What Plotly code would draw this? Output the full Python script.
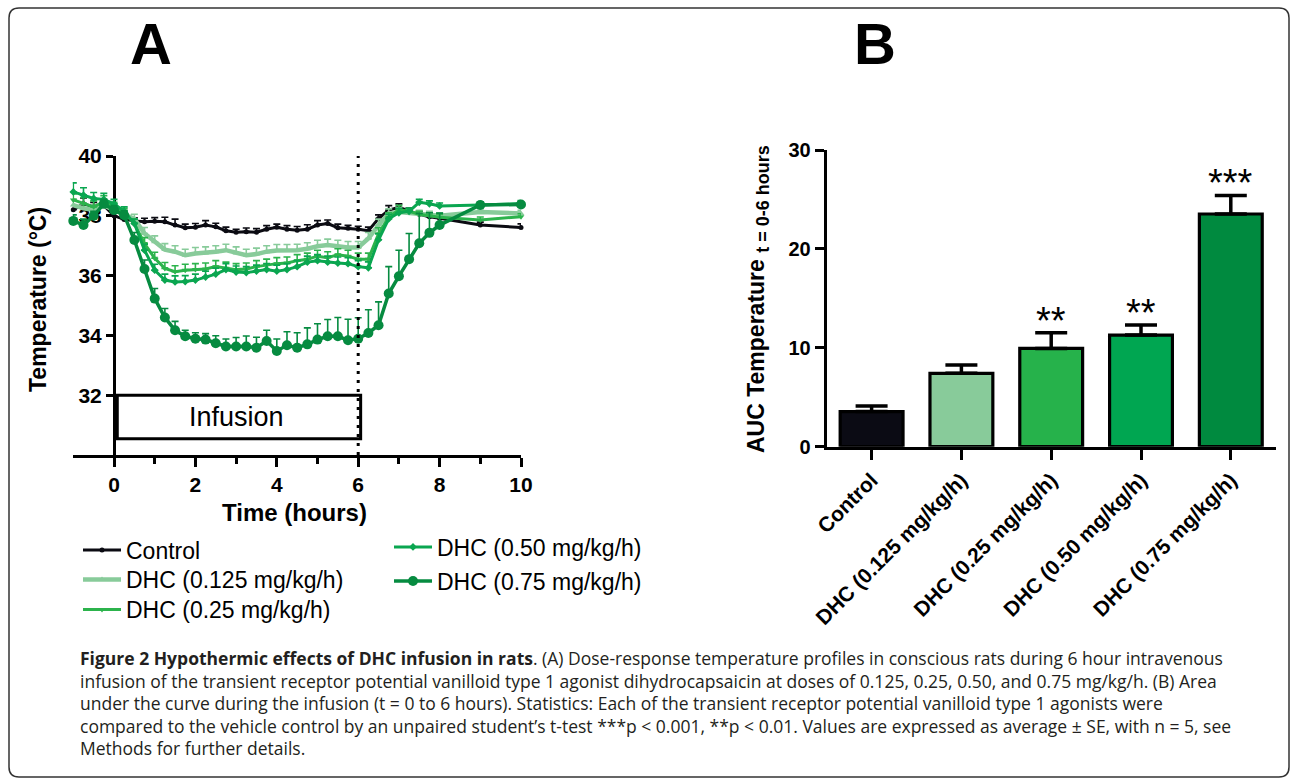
import plotly.graph_objects as go

W, H = 1293, 782

# ---------------- data: panel A ----------------
time_h = [-1, -0.75, -0.5, -0.25, 0, 0.25, 0.5, 0.75, 1, 1.25,
          1.5, 1.75, 2, 2.25, 2.5, 2.75, 3, 3.25, 3.5, 3.75,
          4, 4.25, 4.5, 4.75, 5, 5.25, 5.5, 5.75, 6, 6.25,
          6.5, 6.75, 7, 7.25, 7.5, 7.75, 8, 9, 10]

control = [38.2, 38.4, 38.3, 38.35, 38.0, 37.88, 37.83, 37.8, 37.82, 37.8,
           37.69, 37.6, 37.62, 37.69, 37.63, 37.5, 37.45, 37.47, 37.45, 37.55,
           37.62, 37.55, 37.52, 37.55, 37.69, 37.74, 37.6, 37.58, 37.55, 37.5,
           37.91, 38.19, 38.28, 38.16, 38.05, 37.97, 37.92, 37.69, 37.61]
control_se = [0.15, 0.2, 0.15, 0.15, 0.1, 0.1, 0.1, 0.12, 0.12, 0.15,
              0.2, 0.12, 0.12, 0.15, 0.12, 0.12, 0.1, 0.12, 0.12, 0.12,
              0.1, 0.12, 0.12, 0.15, 0.15, 0.12, 0.12, 0.1, 0.1, 0.12,
              0.12, 0.15, 0.12, 0.1, 0.1, 0.1, 0.1, 0.1, 0.12]

dhc_0125 = [38.36, 38.25, 38.2, 38.35, 38.2, 38.05, 37.9, 37.41, 37.13, 36.87,
            36.8, 36.68, 36.74, 36.76, 36.8, 36.85, 36.76, 36.68, 36.72, 36.8,
            36.84, 36.84, 36.85, 36.9, 36.98, 37.02, 36.98, 36.94, 36.94, 37.24,
            37.69, 38.08, 38.13, 38.1, 38.08, 38.05, 38.0, 38.13, 38.08]
dhc_0125_se = [0.2, 0.15, 0.15, 0.15, 0.15, 0.15, 0.15, 0.2, 0.2, 0.2,
               0.2, 0.2, 0.2, 0.2, 0.2, 0.2, 0.2, 0.2, 0.2, 0.2,
               0.2, 0.2, 0.2, 0.2, 0.2, 0.2, 0.2, 0.2, 0.2, 0.2,
               0.2, 0.15, 0.15, 0.1, 0.1, 0.1, 0.1, 0.1, 0.1]

dhc_025 = [38.53, 38.41, 38.3, 38.47, 38.3, 38.1, 37.74, 37.07, 36.58, 36.24,
           36.13, 36.18, 36.2, 36.22, 36.3, 36.25, 36.2, 36.22, 36.3, 36.35,
           36.4, 36.42, 36.5, 36.55, 36.65, 36.6, 36.7, 36.65, 36.55, 36.55,
           37.4, 37.95, 38.2, 38.15, 38.05, 38.0, 37.95, 37.86, 37.97]
dhc_025_se = [0.2, 0.2, 0.2, 0.2, 0.15, 0.15, 0.15, 0.2, 0.2, 0.2,
              0.2, 0.2, 0.2, 0.2, 0.2, 0.2, 0.2, 0.2, 0.2, 0.2,
              0.2, 0.2, 0.2, 0.2, 0.2, 0.2, 0.2, 0.2, 0.2, 0.2,
              0.2, 0.15, 0.15, 0.1, 0.1, 0.1, 0.1, 0.1, 0.1]

dhc_050 = [38.8, 38.69, 38.58, 38.55, 38.4, 38.15, 37.74, 36.85, 36.18, 35.85,
           35.79, 35.8, 35.85, 35.95, 36.05, 36.2, 36.12, 36.1, 36.15, 36.2,
           36.15, 36.2, 36.3, 36.45, 36.5, 36.45, 36.42, 36.4, 36.3, 36.26,
           37.2, 37.9, 38.1, 38.15, 38.45, 38.4, 38.33, 38.36, 38.41]
dhc_050_se = [0.3, 0.25, 0.2, 0.2, 0.15, 0.15, 0.15, 0.2, 0.2, 0.2,
              0.2, 0.2, 0.2, 0.2, 0.2, 0.2, 0.2, 0.2, 0.2, 0.2,
              0.2, 0.2, 0.2, 0.2, 0.2, 0.2, 0.2, 0.2, 0.2, 0.2,
              0.2, 0.15, 0.15, 0.1, 0.1, 0.1, 0.1, 0.1, 0.1]

dhc_075 = [37.83, 37.69, 38.0, 38.4, 38.19, 38.02, 37.19, 36.22, 35.23, 34.6,
           34.17, 33.97, 33.89, 33.86, 33.74, 33.63, 33.63, 33.63, 33.59, 33.81,
           33.48, 33.67, 33.59, 33.7, 33.86, 33.97, 33.97, 33.84, 33.89, 34.08,
           34.34, 35.4, 35.98, 36.55, 37.08, 37.43, 37.69, 38.36, 38.38]
dhc_075_se = [0.2, 0.2, 0.15, 0.15, 0.15, 0.15, 0.25, 0.3, 0.34, 0.3,
              0.3, 0.2, 0.2, 0.2, 0.25, 0.25, 0.3, 0.35, 0.35, 0.36,
              0.4, 0.45, 0.5, 0.55, 0.53, 0.56, 0.63, 0.7, 0.7, 0.78,
              0.78, 0.9, 0.87, 0.86, 1.0, 0.67, 0.4, 0.1, 0.1]

series_names = ["Control", "DHC (0.125 mg/kg/h)", "DHC (0.25 mg/kg/h)",
                "DHC (0.50 mg/kg/h)", "DHC (0.75 mg/kg/h)"]
infusion_start, infusion_end = 0, 6
a_yticks = [32, 34, 36, 38, 40]
a_xticks = [0, 2, 4, 6, 8, 10]
a_xminor = [1, 3, 5, 7, 9]

# ---------------- data: panel B ----------------
groups = ["Control", "DHC (0.125 mg/kg/h)", "DHC (0.25 mg/kg/h)",
          "DHC (0.50 mg/kg/h)", "DHC (0.75 mg/kg/h)"]
auc = [3.55, 7.42, 9.94, 11.29, 23.53]
auc_se = [0.56, 0.84, 1.59, 1.01, 1.88]
signif = ["", "", "**", "**", "***"]
b_yticks = [0, 10, 20, 30]

caption_lines = [
    "<b>Figure 2 Hypothermic effects of DHC infusion in rats</b>. (A) Dose-response temperature profiles in conscious rats during 6 hour intravenous",
    "infusion of the transient receptor potential vanilloid type 1 agonist dihydrocapsaicin at doses of 0.125, 0.25, 0.50, and 0.75 mg/kg/h. (B) Area",
    "under the curve during the infusion (t = 0 to 6 hours). Statistics: Each of the transient receptor potential vanilloid type 1 agonists were",
    "compared to the vehicle control by an unpaired student\u2019s t-test ***p < 0.001, **p < 0.01. Values are expressed as average \u00b1 SE, with n = 5, see",
    "Methods for further details.",
]

# ---------------- styles ----------------
colors = ["#0b0b12", "#88cb9a", "#2cb34c", "#0aa650", "#068b40"]
bar_colors = ["#0b0b14", "#88cb9a", "#26b24b", "#00a651", "#008a3f"]
line_w = [3, 4.5, 3, 3, 3.5]
msym = ["circle", "triangle-up", "triangle-down", "diamond", "circle"]
msize = [5, 6, 6, 6, 10]
FONT = "Liberation Sans, Arial, sans-serif"


def X(p):
    return p / W


def Y(p):
    return 1 - p / H


# panel A geometry
a_xr = [-1.015, 10]
a_xd = [X(72.7), X(521)]
a_yd = [Y(455), Y(156)]
a_ypos = a_xd[0] + (0 - a_xr[0]) / (a_xr[1] - a_xr[0]) * (a_xd[1] - a_xd[0])

# panel B geometry
b_xd = [X(826.7), X(1275.7)]
b_yd = [Y(446.7), Y(150)]

fig = go.Figure()

all_y = [control, dhc_0125, dhc_025, dhc_050, dhc_075]
all_se = [control_se, dhc_0125_se, dhc_025_se, dhc_050_se, dhc_075_se]
legend_ids = ["legend", "legend2", "legend3", "legend4", "legend5"]
for i in range(5):
    fig.add_trace(go.Scatter(
        x=time_h, y=all_y[i], name=series_names[i], mode="lines+markers",
        line=dict(color=colors[i], width=line_w[i]),
        marker=dict(color=colors[i], size=msize[i], symbol=msym[i]),
        error_y=dict(type="data", symmetric=False, array=all_se[i],
                     arrayminus=[0] * len(all_se[i]), color=colors[i],
                     thickness=1.6, width=3.5),
        cliponaxis=False, legend=legend_ids[i],
        xaxis="x", yaxis="y", showlegend=True))

fig.add_trace(go.Bar(
    x=groups, y=auc, marker=dict(color=bar_colors, line=dict(color="black", width=3.2)),
    width=0.7,
    error_y=dict(type="data", symmetric=False, array=auc_se,
                 arrayminus=[0] * len(auc_se), color="black", thickness=3.5, width=16),
    xaxis="x2", yaxis="y2", showlegend=False))

tickfont = dict(family=FONT, size=21, color="black")
fig.update_layout(
    width=W, height=H, autosize=False,
    margin=dict(l=0, r=0, t=0, b=0, pad=0, autoexpand=False),
    paper_bgcolor="white", plot_bgcolor="white",
    font=dict(family=FONT, color="black"),
    xaxis=dict(domain=a_xd, range=a_xr, anchor="y", showgrid=False, zeroline=False,
               automargin=False,
               showline=True, linewidth=3, linecolor="black",
               ticks="outside", ticklen=9, tickwidth=3, tickcolor="black",
               tickvals=a_xticks, ticktext=[f"<b>{v}</b>" for v in a_xticks],
               tickfont=tickfont,
               minor=dict(tickvals=a_xminor, ticks="outside", ticklen=6, tickwidth=2.5,
                          tickcolor="black", showgrid=False)),
    yaxis=dict(domain=a_yd, range=[30, 40], anchor="free", position=a_ypos,
               showgrid=False, zeroline=False, layer="below traces", automargin=False,
               showline=True, linewidth=3, linecolor="black",
               ticks="outside", ticklen=7, tickwidth=3, tickcolor="black",
               tickvals=a_yticks, ticktext=[f"<b>{v}</b>" for v in a_yticks],
               tickfont=tickfont),
    xaxis2=dict(domain=b_xd, range=[-0.5, 4.5], anchor="y2", type="category",
                showgrid=False, zeroline=False, automargin=False,
                showline=True, linewidth=3, linecolor="black",
                ticks="outside", ticklen=10, tickwidth=3, tickcolor="black",
                tickangle=-45, tickvals=groups,
                ticktext=[f"<b>{g}</b>" for g in groups],
                tickfont=dict(family=FONT, size=21, color="black")),
    yaxis2=dict(domain=b_yd, range=[0, 30], anchor="x2", showgrid=False, zeroline=False,
                automargin=False,
                showline=True, linewidth=3, linecolor="black",
                ticks="outside", ticklen=9, tickwidth=3, tickcolor="black",
                tickvals=b_yticks, ticktext=[f"<b>{v}</b>" for v in b_yticks],
                tickfont=dict(family=FONT, size=20, color="black")),
)

# separate legends, one per row, to mimic the two-column layout
leg_pos = [(78, 550), (78, 579.5), (78, 609.5), (389, 547), (389, 581)]
for i, lid in enumerate(legend_ids):
    fig.update_layout({lid: dict(x=X(leg_pos[i][0]), y=Y(leg_pos[i][1]),
                                 xanchor="left", yanchor="middle",
                                 bgcolor="rgba(0,0,0,0)", borderwidth=0,
                                 itemwidth=38,
                                 font=dict(family=FONT, size=23, color="black"))})

shapes = [
    # dotted line at end of infusion
    dict(type="line", xref="x", yref="y", x0=infusion_end, x1=infusion_end,
         y0=30, y1=40.05, line=dict(color="black", width=3, dash="3px,6px")),
    # infusion box
    dict(type="rect", xref="x", yref="y", x0=infusion_start + 0.08, x1=infusion_end + 0.06,
         y0=30.54, y1=32, line=dict(color="black", width=3), fillcolor="rgba(0,0,0,0)"),
]
# rounded border of the whole figure
x0, x1, yt, yb = X(9), X(1289), Y(8), Y(777)
rx, ry = 10 / W, 10 / H
path = (f"M{x0+rx},{yt} L{x1-rx},{yt} Q{x1},{yt} {x1},{yt-ry} L{x1},{yb+ry} "
        f"Q{x1},{yb} {x1-rx},{yb} L{x0+rx},{yb} Q{x0},{yb} {x0},{yb+ry} "
        f"L{x0},{yt-ry} Q{x0},{yt} {x0+rx},{yt} Z")
shapes.append(dict(type="path", xref="paper", yref="paper", path=path,
                   line=dict(color="#333333", width=1.5)))
fig.update_layout(shapes=shapes)


def pann(text, px, py, size, angle=0, bold=True):
    return dict(text=f"<b>{text}</b>" if bold else text, x=X(px), y=Y(py),
                xref="paper", yref="paper", xanchor="center", yanchor="middle",
                textangle=angle, showarrow=False,
                font=dict(family=FONT, size=size, color="black"))


ann = [
    pann("A", 151, 44, 58),
    pann("B", 875, 44, 58),
    pann("Temperature (°C)", 38, 300, 23, angle=-90),
    pann("Time (hours)", 294.5, 512, 24),
    pann("AUC Temperature <sub><span style='font-size:18px'>t = 0-6 hours</span></sub>",
         758, 299, 23, angle=-90),
]
ann.append(dict(text="Infusion", x=(infusion_start + infusion_end) / 2, y=31.27,
                xref="x", yref="y", showarrow=False, xanchor="center", yanchor="middle",
                font=dict(family=FONT, size=27, color="black")))
for g, v, e, s in zip(groups, auc, auc_se, signif):
    if s:
        ann.append(dict(text=s, x=g, y=v + e, xref="x2", yref="y2", showarrow=False,
                        xanchor="center", yanchor="middle", yshift=12,
                        font=dict(family=FONT, size=38, color="black")))
cap_y = [658, 680.5, 703, 725.5, 748]
for line, yy in zip(caption_lines, cap_y):
    ann.append(dict(text=line, x=X(78), y=Y(yy), xref="paper", yref="paper",
                    xanchor="left", yanchor="middle", showarrow=False, align="left",
                    font=dict(family="Open Sans, sans-serif", size=17.5, color="#231f20")))
fig.update_layout(annotations=ann)

fig.write_html("out.html", config={"displayModeBar": False},
               post_script="document.body.style.margin='0';document.body.style.overflow='hidden';")
